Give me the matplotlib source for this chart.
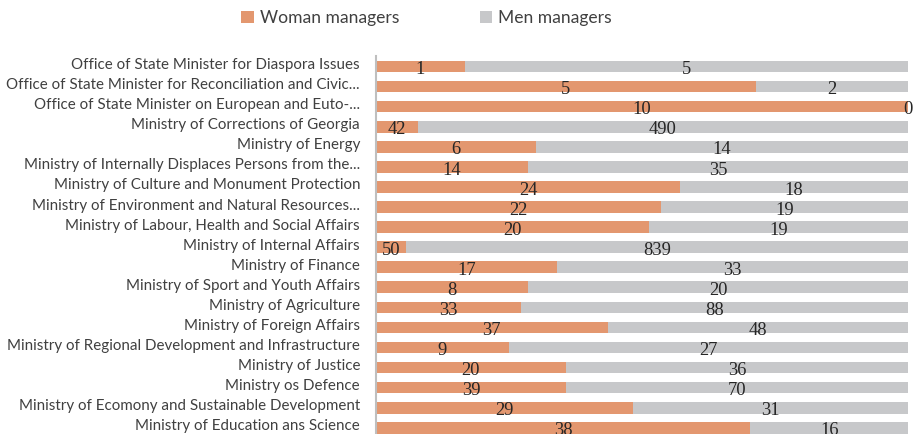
import matplotlib.pyplot as plt
import matplotlib.transforms as mtransforms
import numpy as np

categories = [
    "Office of State Minister for Diaspora Issues",
    "Office of State Minister for Reconciliation and Civic...",
    "Office of State Minister on European and Euto-...",
    "Ministry of Corrections of Georgia",
    "Ministry of Energy",
    "Ministry of Internally Displaces Persons from the...",
    "Ministry of Culture and Monument Protection",
    "Ministry of Environment and Natural Resources...",
    "Ministry of Labour, Health and Social Affairs",
    "Ministry of Internal Affairs",
    "Ministry of Finance",
    "Ministry of Sport and Youth Affairs",
    "Ministry of Agriculture",
    "Ministry of Foreign Affairs",
    "Ministry of Regional Development and Infrastructure",
    "Ministry of Justice",
    "Ministry os Defence",
    "Ministry of Ecomony and Sustainable Development",
    "Ministry of Education ans Science",
]
women = [1, 5, 10, 42, 6, 14, 24, 22, 20, 50, 17, 8, 33, 37, 9, 20, 39, 29, 38]
men = [5, 2, 0, 490, 14, 35, 18, 19, 19, 839, 33, 20, 88, 48, 27, 36, 70, 31, 16]

c_women = "#E3976F"
c_men = "#C7C8CA"

W, H = 914, 434
fig = plt.figure(figsize=(W / 100, H / 100), dpi=100)
# axes placed in pixel terms: left 376, right 908, top 56.5, bottom 434
ax = fig.add_axes([376 / W, 0, (908 - 376) / W, (434 - 56.5) / H])

women = np.array(women, dtype=float)
men = np.array(men, dtype=float)
total = women + men
wf = women / total
mf = men / total
y = np.arange(len(categories))

ax.barh(y, wf, height=0.58, color=c_women, label="Woman managers")
ax.barh(y, mf, left=wf, height=0.58, color=c_men, label="Men managers")

num_font = dict(family="Liberation Serif", size=13.3, color="#262626")
for i in range(len(categories)):
    ax.annotate(f"{int(women[i])}", (wf[i] / 2, y[i]), xytext=(0, -5.5),
                textcoords="offset points", ha="center", va="baseline", **num_font)
    ax.annotate(f"{int(men[i])}", (wf[i] + mf[i] / 2, y[i]), xytext=(0, -5.5),
                textcoords="offset points", ha="center", va="baseline", **num_font)

ax.set_xlim(0, 1)
ax.set_ylim(18.31, -0.5)
ax.set_xticks([])
ax.set_yticks(y)
ax.set_yticklabels(categories, family="Lato", fontsize=10.9, color="#404040")
ax.tick_params(axis="y", length=0, pad=11.5)
# category labels sit a little above the bar centres
shift = mtransforms.ScaledTranslation(0, 3 / 100, fig.dpi_scale_trans)
for lab in ax.get_yticklabels():
    lab.set_transform(lab.get_transform() + shift)
for s in ["top", "right", "bottom"]:
    ax.spines[s].set_visible(False)
ax.spines["left"].set_color("#BFBFBF")
ax.spines["left"].set_linewidth(1.5)

h, l = ax.get_legend_handles_labels()
fig.legend(h, l, loc="center", bbox_to_anchor=(426.5 / W, 1 - 18 / H), ncol=2,
           frameon=False, prop=dict(family="Lato", size=12.6),
           handlelength=0.7, handleheight=0.7, handletextpad=0.35,
           columnspacing=4.6, labelcolor="#404040")

fig.savefig("out.png", dpi=100)
